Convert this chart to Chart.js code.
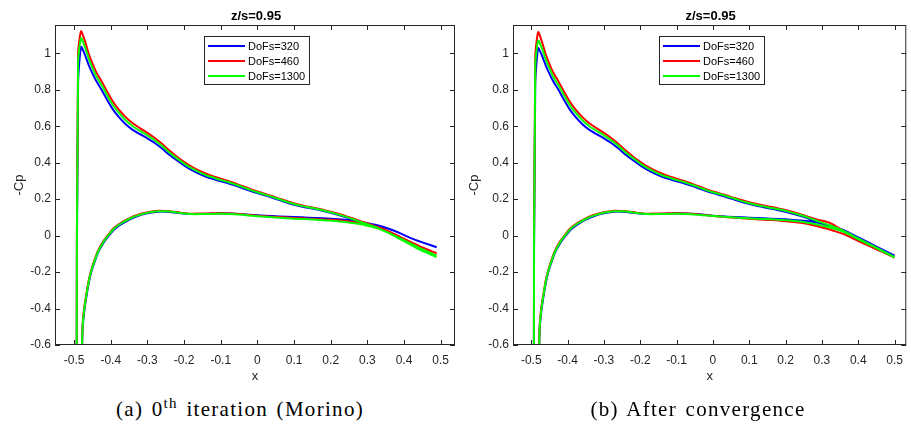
<!DOCTYPE html>
<html>
<head>
<meta charset="utf-8">
<script src="https://cdn.jsdelivr.net/npm/chart.js@4.4.0/dist/chart.umd.min.js"></script>
<style>
  html, body { margin: 0; padding: 0; background: #fff; }
  body { width: 911px; height: 431px; position: relative; overflow: hidden; }
  .panel { position: absolute; top: 0; height: 390px; }
  #panelA { left: 0; width: 460px; }
  #panelB { left: 455px; width: 456px; }
  .caption { position: absolute; top: 399px; font-family: 'Liberation Serif', serif; font-size: 21px; line-height: 20px;
             letter-spacing: 1.3px; word-spacing: 2px; color: #000; white-space: nowrap; transform: translateX(-50%); }
  .caption sup { font-size: 15px; line-height: 0; vertical-align: baseline; position: relative; top: -8px; }
</style>
</head>
<body>
<div class="panel" id="panelA"><canvas id="chartA"></canvas></div>
<div class="panel" id="panelB"><canvas id="chartB"></canvas></div>
<div class="caption" style="left:240px">(a) 0<sup>th</sup> iteration (Morino)</div>
<div class="caption" style="left:698px">(b) After convergence</div>
<script>
const seriesLabels = ['DoFs=320', 'DoFs=460', 'DoFs=1300'];
const seriesColors = ['#0000ff', '#ff0000', '#00ff00'];
const xTicks = [-0.5, -0.4, -0.3, -0.2, -0.1, 0, 0.1, 0.2, 0.3, 0.4, 0.5];
const yTicks = [-0.6, -0.4, -0.2, 0, 0.2, 0.4, 0.6, 0.8, 1];

// (a) 0th iteration: upper surface, leading edge -> trailing edge
const xUpperA = [-0.493, -0.489, -0.481, -0.47, -0.46, -0.45, -0.44, -0.425, -0.41, -0.395, -0.38, -0.36, -0.34, -0.32, -0.30, -0.28, -0.26, -0.24, -0.22, -0.20, -0.18, -0.16, -0.14, -0.12, -0.10, -0.08, -0.06, -0.04, -0.02, 0, 0.03, 0.06, 0.09, 0.12, 0.15, 0.18, 0.21, 0.24, 0.27, 0.30, 0.33, 0.36, 0.39, 0.42, 0.45, 0.489];
const upper320A = [-1.0, 0.84, 1.035, 0.99, 0.935, 0.89, 0.85, 0.80, 0.745, 0.695, 0.655, 0.612, 0.58, 0.556, 0.533, 0.508, 0.478, 0.443, 0.413, 0.385, 0.36, 0.34, 0.323, 0.31, 0.298, 0.287, 0.274, 0.26, 0.246, 0.233, 0.215, 0.195, 0.175, 0.16, 0.148, 0.135, 0.12, 0.102, 0.082, 0.065, 0.052, 0.036, 0.012, -0.015, -0.037, -0.064];
const upper460A = [-1.0, 1.0, 1.121, 1.065, 0.997, 0.944, 0.898, 0.846, 0.79, 0.738, 0.696, 0.651, 0.616, 0.589, 0.563, 0.535, 0.503, 0.466, 0.434, 0.404, 0.378, 0.357, 0.339, 0.325, 0.312, 0.300, 0.286, 0.271, 0.256, 0.242, 0.223, 0.203, 0.183, 0.167, 0.154, 0.141, 0.126, 0.108, 0.087, 0.066, 0.045, 0.02, -0.008, -0.037, -0.065, -0.097];
const upper1300A = [-1.0, 0.95, 1.083, 1.032, 0.97, 0.92, 0.876, 0.826, 0.77, 0.719, 0.678, 0.634, 0.6, 0.574, 0.55, 0.523, 0.492, 0.456, 0.425, 0.395, 0.37, 0.349, 0.331, 0.318, 0.305, 0.294, 0.28, 0.266, 0.251, 0.238, 0.219, 0.199, 0.179, 0.163, 0.151, 0.138, 0.122, 0.104, 0.083, 0.062, 0.04, 0.014, -0.016, -0.046, -0.075, -0.11];
// (a) lower surface, leading edge -> trailing edge
const xLowerA = [-0.482, -0.477, -0.472, -0.466, -0.46, -0.453, -0.445, -0.435, -0.42, -0.405, -0.39, -0.37, -0.35, -0.33, -0.30, -0.27, -0.24, -0.21, -0.18, -0.15, -0.12, -0.09, -0.06, -0.03, 0, 0.04, 0.08, 0.12, 0.16, 0.20, 0.24, 0.27, 0.30, 0.33, 0.36, 0.39, 0.42, 0.45, 0.489];
const lower320A = [-0.9, -0.52, -0.41, -0.33, -0.26, -0.2, -0.15, -0.095, -0.04, 0.0, 0.035, 0.064, 0.087, 0.105, 0.122, 0.131, 0.13, 0.123, 0.118, 0.119, 0.121, 0.122, 0.12, 0.116, 0.111, 0.107, 0.103, 0.10, 0.097, 0.093, 0.087, 0.08, 0.068, 0.055, 0.036, 0.012, -0.015, -0.037, -0.064];
const lower460A = [-0.9, -0.5, -0.39, -0.315, -0.245, -0.187, -0.138, -0.084, -0.03, 0.01, 0.044, 0.073, 0.095, 0.112, 0.128, 0.136, 0.134, 0.126, 0.12, 0.121, 0.122, 0.123, 0.12, 0.115, 0.109, 0.104, 0.099, 0.095, 0.091, 0.087, 0.08, 0.072, 0.06, 0.046, 0.022, -0.008, -0.038, -0.066, -0.097];
const lower1300A = [-0.9, -0.51, -0.4, -0.322, -0.252, -0.193, -0.144, -0.09, -0.035, 0.005, 0.04, 0.069, 0.091, 0.108, 0.125, 0.133, 0.132, 0.124, 0.118, 0.118, 0.119, 0.12, 0.117, 0.112, 0.106, 0.1, 0.095, 0.091, 0.087, 0.082, 0.075, 0.066, 0.054, 0.038, 0.012, -0.02, -0.052, -0.084, -0.117];

// (b) after convergence
const xUpperB = [-0.493, -0.489, -0.481, -0.47, -0.46, -0.45, -0.44, -0.425, -0.41, -0.395, -0.38, -0.36, -0.34, -0.32, -0.30, -0.28, -0.26, -0.24, -0.22, -0.20, -0.18, -0.16, -0.14, -0.12, -0.10, -0.08, -0.06, -0.04, -0.02, 0, 0.03, 0.06, 0.09, 0.12, 0.15, 0.18, 0.21, 0.24, 0.27, 0.29, 0.31, 0.33, 0.36, 0.40, 0.45, 0.50];
const upper320B = [-1.0, 0.83, 1.028, 0.985, 0.932, 0.888, 0.848, 0.80, 0.745, 0.695, 0.655, 0.612, 0.58, 0.556, 0.533, 0.508, 0.478, 0.443, 0.413, 0.385, 0.36, 0.34, 0.323, 0.31, 0.298, 0.287, 0.274, 0.26, 0.246, 0.233, 0.216, 0.197, 0.178, 0.163, 0.151, 0.139, 0.125, 0.108, 0.088, 0.072, 0.06, 0.05, 0.03, -0.01, -0.06, -0.11];
const upper460B = [-1.0, 0.98, 1.116, 1.06, 0.993, 0.942, 0.896, 0.845, 0.79, 0.738, 0.696, 0.651, 0.616, 0.589, 0.563, 0.535, 0.503, 0.466, 0.434, 0.404, 0.378, 0.357, 0.339, 0.325, 0.312, 0.300, 0.286, 0.271, 0.256, 0.242, 0.225, 0.206, 0.188, 0.173, 0.161, 0.149, 0.135, 0.118, 0.098, 0.086, 0.077, 0.062, 0.025, -0.02, -0.07, -0.12];
const upper1300B = [-1.0, 0.93, 1.07, 1.025, 0.965, 0.917, 0.873, 0.824, 0.77, 0.719, 0.678, 0.634, 0.6, 0.574, 0.55, 0.523, 0.492, 0.456, 0.425, 0.395, 0.37, 0.349, 0.331, 0.318, 0.305, 0.294, 0.28, 0.266, 0.251, 0.238, 0.221, 0.202, 0.183, 0.168, 0.156, 0.144, 0.13, 0.113, 0.093, 0.078, 0.064, 0.05, 0.026, -0.016, -0.066, -0.118];
const xLowerB = [-0.482, -0.477, -0.472, -0.466, -0.46, -0.453, -0.445, -0.435, -0.42, -0.405, -0.39, -0.37, -0.35, -0.33, -0.30, -0.27, -0.24, -0.21, -0.18, -0.15, -0.12, -0.09, -0.06, -0.03, 0, 0.04, 0.08, 0.12, 0.16, 0.20, 0.24, 0.27, 0.29, 0.31, 0.33, 0.36, 0.40, 0.45, 0.50];
const lower320B = [-0.9, -0.52, -0.41, -0.33, -0.26, -0.2, -0.15, -0.095, -0.04, 0.0, 0.035, 0.064, 0.087, 0.105, 0.122, 0.131, 0.13, 0.123, 0.118, 0.119, 0.121, 0.122, 0.12, 0.116, 0.109, 0.104, 0.1, 0.097, 0.093, 0.089, 0.083, 0.077, 0.07, 0.06, 0.05, 0.03, -0.01, -0.06, -0.11];
const lower460B = [-0.9, -0.5, -0.39, -0.315, -0.245, -0.187, -0.138, -0.084, -0.03, 0.01, 0.044, 0.073, 0.095, 0.112, 0.128, 0.136, 0.134, 0.126, 0.12, 0.121, 0.122, 0.123, 0.12, 0.115, 0.107, 0.1, 0.095, 0.09, 0.085, 0.079, 0.07, 0.06, 0.05, 0.04, 0.028, 0.008, -0.03, -0.075, -0.12];
const lower1300B = [-0.9, -0.51, -0.4, -0.322, -0.252, -0.193, -0.144, -0.09, -0.035, 0.005, 0.04, 0.069, 0.091, 0.108, 0.125, 0.133, 0.132, 0.124, 0.118, 0.118, 0.119, 0.12, 0.117, 0.112, 0.108, 0.102, 0.097, 0.093, 0.089, 0.084, 0.077, 0.068, 0.06, 0.05, 0.04, 0.02, -0.02, -0.068, -0.12];

const axisColor = '#262626';
const sansFont = '"Liberation Sans", Arial, sans-serif';

// trailing edge -> upper -> leading edge -> lower -> trailing edge
function loop(xu, cu, xl, cl) {
    const pts = [];
    for (let i = xu.length - 1; i >= 0; i--) pts.push({x: xu[i], y: cu[i]});
    for (let i = 0; i < xl.length; i++) pts.push({x: xl[i], y: cl[i]});
    return pts;
}

function fmt(v) {
    const r = Math.round(v * 10) / 10;
    return r === 0 ? '0' : String(r);
}

// MATLAB-like box, inward ticks, title and legend
const matlabFrame = {
    id: 'matlabFrame',
    afterDraw(chart, args, opts) {
        const {ctx, chartArea: a, scales} = chart;
        ctx.save();
        ctx.strokeStyle = axisColor;
        ctx.lineWidth = 1;
        ctx.strokeRect(a.left + 0.5, a.top + 0.5, a.right - a.left - 1, a.bottom - a.top - 1);
        ctx.beginPath();
        xTicks.forEach(v => {
            const p = Math.round(scales.x.getPixelForValue(v)) + 0.5;
            ctx.moveTo(p, a.bottom); ctx.lineTo(p, a.bottom - 5);
            ctx.moveTo(p, a.top); ctx.lineTo(p, a.top + 5);
        });
        yTicks.forEach(v => {
            const p = Math.round(scales.y.getPixelForValue(v)) + 0.5;
            ctx.moveTo(a.left, p); ctx.lineTo(a.left + 5, p);
            ctx.moveTo(a.right, p); ctx.lineTo(a.right - 5, p);
        });
        ctx.stroke();

        ctx.fillStyle = '#000';
        ctx.font = 'bold 13px ' + sansFont;
        ctx.textAlign = 'center';
        ctx.textBaseline = 'middle';
        ctx.fillText(opts.title, (a.left + a.right) / 2 + 1, 16);

        const lw = 106, lh = 49;
        const lx = Math.round((a.left + a.right) / 2 - lw / 2) + 2;
        const ly = a.top + 11;
        ctx.fillStyle = '#fff';
        ctx.fillRect(lx, ly, lw, lh);
        ctx.strokeStyle = axisColor;
        ctx.strokeRect(lx + 0.5, ly + 0.5, lw - 1, lh - 1);
        ctx.font = '11px ' + sansFont;
        ctx.textAlign = 'left';
        chart.data.datasets.forEach((ds, i) => {
            const y = ly + 10 + 15 * i;
            ctx.strokeStyle = ds.borderColor;
            ctx.lineWidth = 2;
            ctx.beginPath();
            ctx.moveTo(lx + 4, y); ctx.lineTo(lx + 41, y);
            ctx.stroke();
            ctx.fillStyle = '#000';
            ctx.fillText(ds.label, lx + 44, y + 0.5);
        });
        ctx.restore();
    }
};

function makeChart(id, curves, xMin, xMax, yAxisWidth, padRight) {
    new Chart(document.getElementById(id), {
        type: 'scatter',
        data: {
            datasets: curves.map((pts, i) => ({
                label: seriesLabels[i],
                data: pts,
                showLine: true,
                borderColor: seriesColors[i],
                backgroundColor: seriesColors[i],
                borderWidth: 2,
                pointRadius: 0,
                tension: 0.2,
                order: 3 - i
            }))
        },
        options: {
            responsive: true,
            maintainAspectRatio: false,
            animation: false,
            layout: { padding: { top: 25, right: padRight, bottom: 0, left: 0 } },
            plugins: {
                legend: { display: false },
                tooltip: { enabled: false },
                matlabFrame: { title: 'z/s=0.95' }
            },
            scales: {
                x: {
                    type: 'linear',
                    min: xMin,
                    max: xMax,
                    afterBuildTicks: s => { s.ticks = xTicks.map(v => ({value: v})); },
                    afterFit: s => { s.height = 45; },
                    grid: { display: false, drawTicks: false },
                    border: { display: false },
                    ticks: { padding: 8, color: axisColor, maxRotation: 0, autoSkip: false,
                             font: { family: sansFont, size: 12 }, callback: v => fmt(v) },
                    title: { display: true, text: 'x', color: axisColor,
                             font: { family: sansFont, size: 13 }, padding: { top: 0, bottom: 6 } }
                },
                y: {
                    type: 'linear',
                    min: -0.6,
                    max: 1.155,
                    afterBuildTicks: s => { s.ticks = yTicks.map(v => ({value: v})); },
                    afterFit: s => { s.width = yAxisWidth; },
                    grid: { display: false, drawTicks: false },
                    border: { display: false },
                    ticks: { padding: 4, color: axisColor, autoSkip: false,
                             font: { family: sansFont, size: 12 }, callback: v => fmt(v) },
                    title: { display: true, text: '-Cp', color: axisColor,
                             font: { family: sansFont, size: 13 }, padding: { top: 12, bottom: 0 } }
                }
            }
        },
        plugins: [matlabFrame]
    });
}

makeChart('chartA', [
    loop(xUpperA, upper320A, xLowerA, lower320A),
    loop(xUpperA, upper460A, xLowerA, lower460A),
    loop(xUpperA, upper1300A, xLowerA, lower1300A)
], -0.552, 0.539, 55, 5);

makeChart('chartB', [
    loop(xUpperB, upper320B, xLowerB, lower320B),
    loop(xUpperB, upper460B, xLowerB, lower460B),
    loop(xUpperB, upper1300B, xLowerB, lower1300B)
], -0.5502, 0.532, 58, 1);
</script>
</body>
</html>
